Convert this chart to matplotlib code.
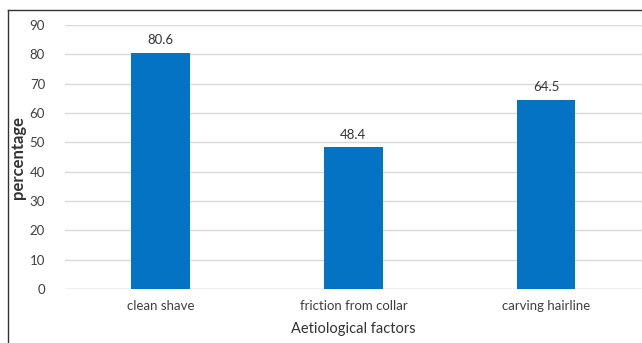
import matplotlib.pyplot as plt
from matplotlib.lines import Line2D

categories = ["clean shave", "friction from collar", "carving hairline"]
values = [80.6, 48.4, 64.5]
yticks = [0, 10, 20, 30, 40, 50, 60, 70, 80, 90]

plt.rcParams["font.family"] = ["Lato", "DejaVu Sans"]

fig = plt.figure(figsize=(6.42, 3.43), dpi=100)
ax = fig.add_axes([0.1005, 0.1574, 0.9, 0.7696])

x = range(len(categories))
bars = ax.bar(x, values, width=0.306, color="#0573c3", zorder=3)
for b, v in zip(bars, values):
    ax.text(b.get_x() + b.get_width() / 2, v + 2.2, f"{v:.1f}",
            ha="center", va="bottom", fontsize=9.5, color="#333333")

ax.set_xlim(-0.5, 2.5)
ax.set_ylim(0, 90)
ax.set_yticks(yticks)
ax.set_xticks(list(x))
ax.set_xticklabels(categories)
ax.grid(axis="y", color="#d9d9d9", linewidth=1, zorder=0)
for s in ax.spines.values():
    s.set_visible(False)
ax.axhline(0, color="#d0d0d0", linewidth=1, zorder=2)
ax.tick_params(length=0, labelsize=9.5, colors="#404040")
ax.tick_params(axis="y", pad=14)
ax.tick_params(axis="x", pad=8)
ax.set_ylabel("percentage", fontsize=12, fontweight="bold", color="#333333", labelpad=3)
ax.set_xlabel("Aetiological factors", fontsize=10.5, color="#333333", labelpad=7)

# outer frame
fig.add_artist(Line2D([8 / 642, 8 / 642], [0, 1 - 10 / 343], color="#333333", linewidth=1))
fig.add_artist(Line2D([8 / 642, 1], [1 - 10 / 343, 1 - 10 / 343], color="#333333", linewidth=1))

fig.savefig("out.png", dpi=100)
